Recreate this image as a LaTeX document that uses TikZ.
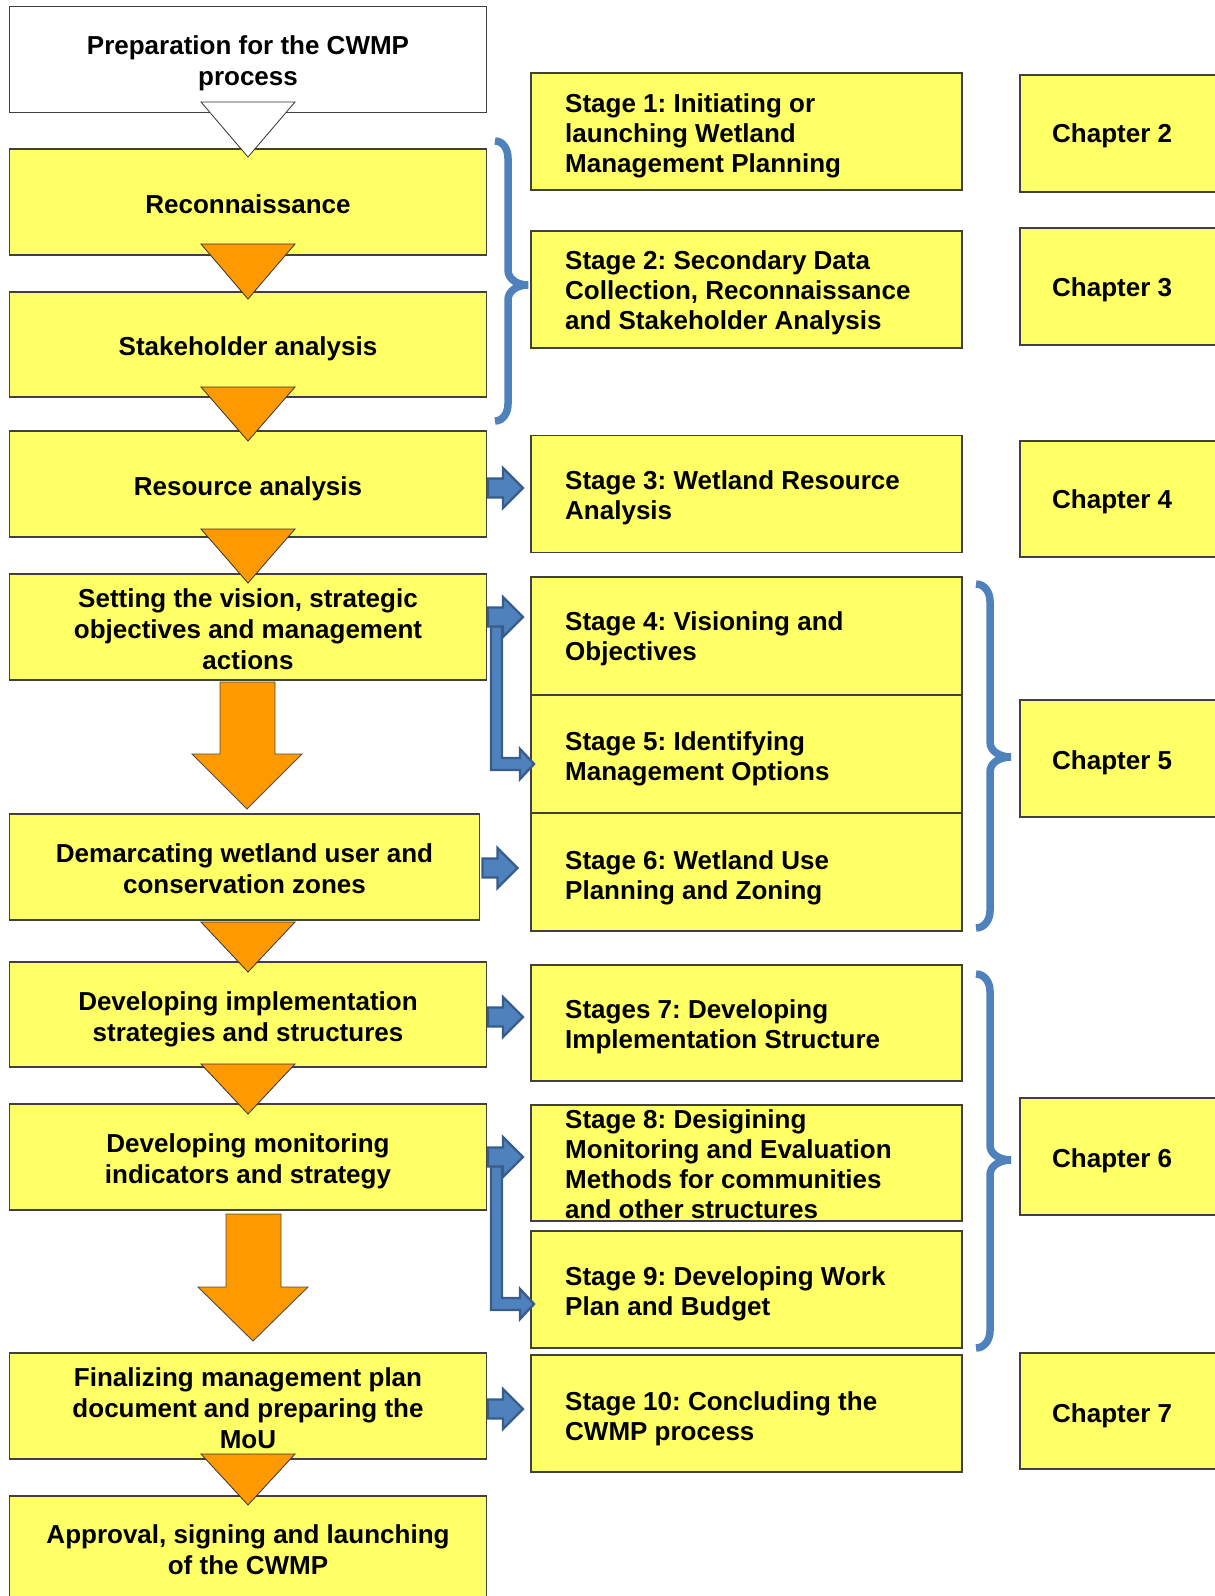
\documentclass[tikz,border=0pt]{standalone}
\usepackage{fontspec}
\setmainfont{Liberation Sans}
\frenchspacing
\definecolor{wyellow}{HTML}{FFFF66}
\definecolor{worange}{HTML}{FF9900}
\definecolor{wblue}{HTML}{4F81BD}
\definecolor{wbluedark}{HTML}{385D8A}
\tikzset{
  box/.style={draw=black!75, line width=1.1pt, fill=wyellow, rectangle,
    inner sep=0pt, outer sep=0pt, anchor=north west},
  leftbox/.style={box, minimum width=477pt, minimum height=106pt},
  stagebox/.style={box, minimum width=431pt},
  chapbox/.style={box, minimum width=222pt},
  steptext/.style={align=center, inner sep=0pt,
    font=\fontsize{26}{31}\selectfont\bfseries},
  boxlabel/.style={align=left, anchor=west, inner sep=0pt,
    font=\fontsize{26}{30}\selectfont\bfseries},
  orangetri/.style={draw=black!80, line width=0.8pt, fill=worange},
  whitetri/.style={draw=black!80, line width=0.8pt, fill=white},
  bigarrow/.style={draw=black!70, line width=0.9pt, fill=worange},
  bluearrow/.style={draw=wbluedark, line width=2.4pt, fill=wblue, line join=miter},
  bracket/.style={draw=wblue, line width=7.5pt},
  rarrow/.pic={
    \path[bluearrow] (0,-9.5) -- (15,-9.5) -- (15,-20) -- (35,0) -- (15,20)
      -- (15,9.5) -- (0,9.5) -- cycle;},
  larrow/.pic={
    \path[bluearrow] (3,0) -- (14,0) -- (14,141) -- (32,141) -- (32,132)
      -- (46,147) -- (32,162) -- (32,153) -- (3,153) -- cycle;},
}
% a step of the left column: [box options] name, top y, text offset, text
\newcommand\stepnode[5][]{%
  \node[leftbox,#1] (#2) at (9.5,#3) {};
  \node[steptext] (#2t) at ([yshift=-#4pt]#2.center) {#5};}
% label inside a stage or chapter box: name, left offset, downward offset, text
\newcommand\boxtext[4]{%
  \node[boxlabel] (#1t) at ([xshift=#2pt,yshift=-#3pt]#1.west) {#4};}
% vertical flow triangle between two boxes of the left column
\newcommand\downtri[3][orangetri]{\draw[#1] (201,#2) -- (295,#2) -- (248,#3) -- cycle;}
% curly bracket: left end x, spine x, tip x, top y, middle y, bottom y
\newcommand\curly[6]{%
  \draw[bracket] (#1,#4) to[out=0,in=90] (#2,#4+17) -- (#2,#5-15)
    to[out=-90,in=180] (#3,#5) to[out=180,in=90] (#2,#5+15)
    -- (#2,#6-17) to[out=-90,in=0] (#1,#6);}
\begin{document}
\begin{tikzpicture}[x=1pt,y=-1pt]
\useasboundingbox (0,0) rectangle (1215,1596);
\clip (0,0) rectangle (1215,1596);

% ---- left column: the process steps ----
\stepnode[fill=white]{prep}{6.7}{3.5}{Preparation for the CWMP\\process}
\stepnode{recon}{149}{2}{Reconnaissance}
\stepnode[minimum height=105pt]{stake}{292}{4}{Stakeholder analysis}
\stepnode{resource}{431}{5}{Resource analysis}
\stepnode{vision}{574}{2}{Setting the vision, strategic\\objectives and management\\actions}
\stepnode[minimum width=470pt]{demarc}{814}{1.5}{Demarcating wetland user and\\conservation zones}
\stepnode[minimum height=105pt]{devimpl}{962}{4.5}{Developing implementation\\strategies and structures}
\stepnode{monitor}{1104}{4.5}{Developing monitoring\\indicators and strategy}
\stepnode{final}{1353}{2}{Finalizing management plan\\document and preparing the\\MoU}
\stepnode{approval}{1496}{0.5}{Approval, signing and launching\\of the CWMP}

% flow triangles
\downtri[whitetri]{102}{157}
\downtri{244}{299}
\downtri{387}{441}
\downtri{529}{583}
\downtri{922}{972}
\downtri{1064}{1114}
\downtri{1454}{1505}

% large block arrows
\draw[bigarrow] (220,682) -- (275,682) -- (275,754) -- (302,754) -- (247,809)
  -- (192,754) -- (220,754) -- cycle;
\draw[bigarrow] (226,1214) -- (281,1214) -- (281,1287) -- (308,1287) -- (253,1341)
  -- (198,1287) -- (226,1287) -- cycle;

% ---- middle column: the stages ----
\node[stagebox, minimum height=117pt] (s1) at (531,73) {};
\node[stagebox, minimum height=117pt] (s2) at (531,231) {};
\node[stagebox, minimum height=117pt] (s3) at (531,435.5) {};
\node[stagebox, minimum height=118pt] (s4) at (531,577) {};
\node[stagebox, minimum height=118pt] (s5) at (531,695) {};
\node[stagebox, minimum height=118pt] (s6) at (531,813) {};
\node[stagebox, minimum height=116pt] (s7) at (531,965) {};
\node[stagebox, minimum height=116pt] (s8) at (531,1105) {};
\node[stagebox, minimum height=117pt] (s9) at (531,1231) {};
\node[stagebox, minimum height=117pt] (s10) at (531,1355) {};

\boxtext{s1}{34}{4}{Stage 1: Initiating or\\launching Wetland\\Management Planning}
\boxtext{s2}{34}{3.5}{Stage 2: Secondary Data\\Collection, Reconnaissance\\and Stakeholder Analysis}
\boxtext{s3}{34}{4}{Stage 3: Wetland Resource\\Analysis}
\boxtext{s4}{34}{3}{Stage 4: Visioning and\\Objectives}
\boxtext{s5}{34}{4.5}{Stage 5: Identifying\\Management Options}
\boxtext{s6}{34}{6}{Stage 6: Wetland Use\\Planning and Zoning}
\boxtext{s7}{34}{4}{Stages 7: Developing\\Implementation Structure}
\boxtext{s8}{34}{1.5}{Stage 8: Desigining\\Monitoring and Evaluation\\Methods for communities\\and other structures}
\boxtext{s9}{34}{4}{Stage 9: Developing Work\\Plan and Budget}
\boxtext{s10}{34}{5.5}{Stage 10: Concluding the\\CWMP process}

% ---- right column: the chapters ----
\node[chapbox, minimum height=117pt] (c2) at (1020,75) {};
\node[chapbox, minimum height=117pt] (c3) at (1020,228) {};
\node[chapbox, minimum height=116pt] (c4) at (1020,441) {};
\node[chapbox, minimum height=117pt] (c5) at (1020,700) {};
\node[chapbox, minimum height=117pt] (c6) at (1020,1098) {};
\node[chapbox, minimum height=116pt] (c7) at (1020,1353) {};
\boxtext{c2}{32}{2}{Chapter 2}
\boxtext{c3}{32}{3}{Chapter 3}
\boxtext{c4}{32}{3}{Chapter 4}
\boxtext{c5}{32}{4}{Chapter 5}
\boxtext{c6}{32}{4}{Chapter 6}
\boxtext{c7}{32}{5}{Chapter 7}

% ---- blue connectors from the steps to the stages ----
\path ([xshift=1.5pt,yshift=-4pt]resource.east) pic {rarrow};
\path ([xshift=1.5pt,yshift=10pt]vision.east) pic {larrow};
\path ([xshift=1.5pt,yshift=10pt]vision.east) pic {rarrow};
\path ([xshift=3pt,yshift=-1pt]demarc.east) pic {rarrow};
\path ([xshift=1.5pt,yshift=-2.5pt]devimpl.east) pic {rarrow};
\path ([xshift=1.5pt]monitor.east) pic {larrow};
\path ([xshift=1.5pt]monitor.east) pic {rarrow};
\path ([xshift=1.5pt,yshift=-3pt]final.east) pic {rarrow};

% ---- brackets grouping steps and stages ----
\curly{495}{508}{528}{141}{285}{421}
\curly{976}{990}{1011}{584}{757}{928}
\curly{976}{990}{1011}{974}{1160}{1348}
\end{tikzpicture}
\end{document}
